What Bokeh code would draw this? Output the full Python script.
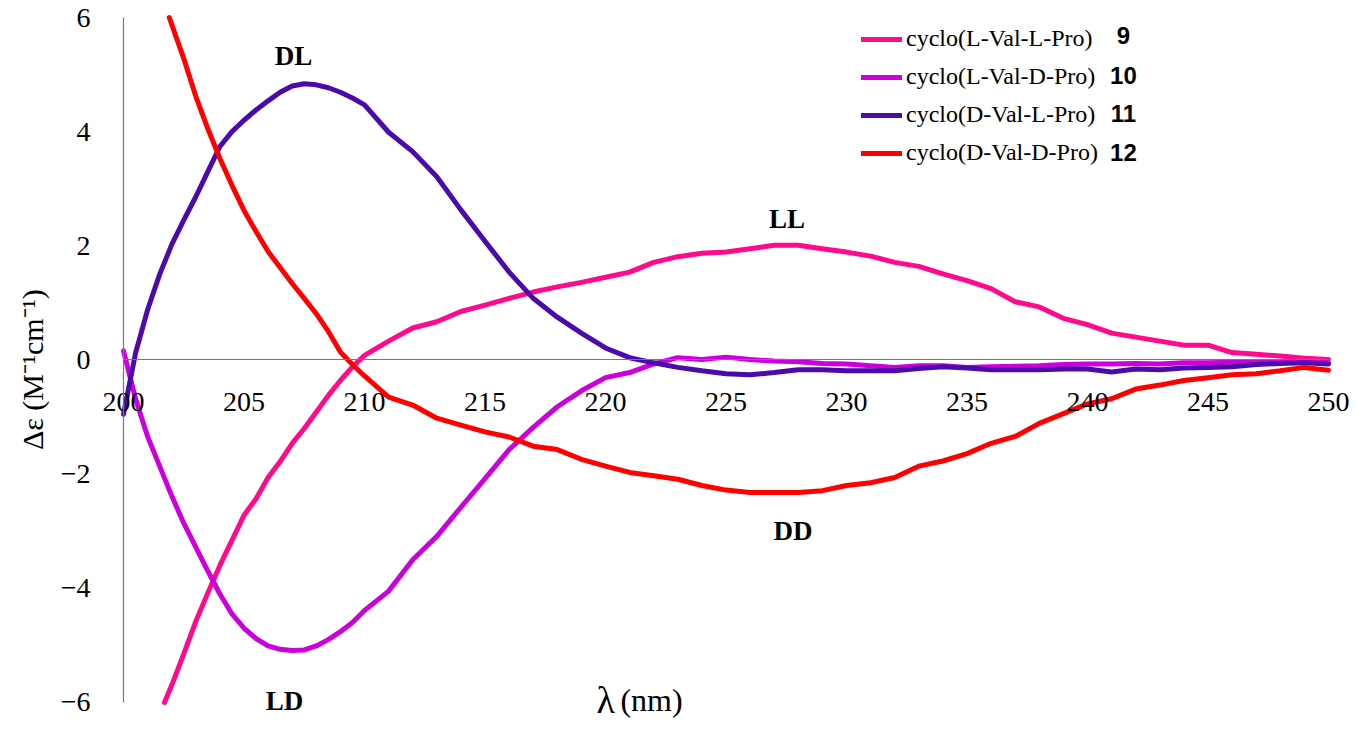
import numpy as np
from bokeh.plotting import figure
from bokeh.models import Label, Legend, LegendItem, FixedTicker, Range1d
from bokeh.embed import file_html
from bokeh.resources import INLINE

# ---- data ----
fine = [200 + 0.5 * i for i in range(21)]          # 200 ... 210 in 0.5 nm steps
coarse = list(range(211, 251))                      # 211 ... 250

# cyclo(L-Val-L-Pro) 9: enters the window at the bottom edge near 201.7 nm
ll_wavelength = [201.7, 202, 202.5, 203, 203.5, 204, 204.5, 205, 205.5, 206, 206.5,
                 207, 207.5, 208, 208.5, 209, 209.5, 210] + coarse
ll_9 = [-6.0, -5.7, -5.15, -4.58, -4.08, -3.6, -3.16, -2.72, -2.43, -2.06, -1.78,
        -1.46, -1.2, -0.91, -0.62, -0.36, -0.12, 0.08,
        0.33, 0.56, 0.67, 0.85, 0.96, 1.08, 1.19, 1.28, 1.36,
        1.45, 1.54, 1.71, 1.81, 1.87, 1.89, 1.95, 2.01, 2.01, 1.95,
        1.89, 1.82, 1.71, 1.64, 1.51, 1.39, 1.25, 1.02, 0.93, 0.73,
        0.62, 0.47, 0.40, 0.33, 0.26, 0.26, 0.13, 0.10, 0.07, 0.03, 0.01]

# cyclo(L-Val-D-Pro) 10
ld_wavelength = fine + coarse
ld_10 = [0.16, -0.68, -1.34, -1.86, -2.38, -2.86, -3.28, -3.7, -4.1, -4.45,
         -4.70, -4.88, -5.01, -5.07, -5.09, -5.08, -5.01, -4.90, -4.76, -4.60, -4.39,
         -4.05, -3.5, -3.09, -2.58, -2.08, -1.57, -1.18, -0.82, -0.54,
         -0.31, -0.22, -0.07, 0.04, 0.01, 0.05, 0.01, -0.02, -0.03, -0.06,
         -0.07, -0.10, -0.13, -0.10, -0.10, -0.13, -0.12, -0.11, -0.10, -0.08,
         -0.07, -0.07, -0.06, -0.07, -0.05, -0.05, -0.04, -0.04, -0.03, -0.03, -0.05]

# cyclo(D-Val-L-Pro) 11
dl_wavelength = fine + coarse
dl_11 = [-0.95, 0.12, 0.88, 1.50, 2.02, 2.45, 2.86, 3.3, 3.74, 4.0,
         4.2, 4.38, 4.54, 4.69, 4.80, 4.84, 4.82, 4.77, 4.69, 4.59, 4.47,
         3.99, 3.65, 3.21, 2.63, 2.08, 1.54, 1.08, 0.75, 0.47,
         0.21, 0.04, -0.05, -0.13, -0.19, -0.24, -0.26, -0.22, -0.17, -0.17,
         -0.19, -0.19, -0.19, -0.15, -0.12, -0.14, -0.17, -0.17, -0.17, -0.16,
         -0.16, -0.21, -0.16, -0.17, -0.14, -0.13, -0.12, -0.08, -0.06, -0.05, -0.07]

# cyclo(D-Val-D-Pro) 12: enters the window at the top edge near 201.9 nm
dd_wavelength = [201.9, 202.5, 203, 203.5, 204, 204.5, 205, 205.5, 206, 206.5,
                 207, 207.5, 208, 208.5, 209, 209.5, 210] + coarse
dd_12 = [6.0, 5.28, 4.62, 4.05, 3.53, 3.06, 2.62, 2.25, 1.9, 1.62,
         1.34, 1.08, 0.81, 0.5, 0.14, -0.08, -0.28,
         -0.65, -0.79, -1.02, -1.14, -1.26, -1.35, -1.51, -1.57, -1.74,
         -1.86, -1.97, -2.03, -2.09, -2.2, -2.28, -2.32, -2.32, -2.32, -2.29,
         -2.2, -2.15, -2.06, -1.86, -1.77, -1.64, -1.46, -1.34, -1.11, -0.94,
         -0.77, -0.68, -0.51, -0.44, -0.36, -0.31, -0.26, -0.24, -0.19, -0.13, -0.18]

series_names = ["cyclo(L-Val-L-Pro)", "cyclo(L-Val-D-Pro)",
                "cyclo(D-Val-L-Pro)", "cyclo(D-Val-D-Pro)"]
series_numbers = ["9", "10", "11", "12"]
series_x = [ll_wavelength, ld_wavelength, dl_wavelength, dd_wavelength]
series_values = [ll_9, ld_10, dl_11, dd_12]
series_colors = ["#FF0A8C", "#CC00DD", "#4B0AAA", "#FF0000"]

curve_labels = ["DL", "LL", "DD", "LD"]

x_ticks = list(range(200, 251, 5))
y_ticks = [-6, -4, -2, 0, 2, 4, 6]
y_tick_labels = {-6: "\u22126", -4: "\u22124", -2: "\u22122", 0: "0", 2: "2", 4: "4", 6: "6"}

SERIF = "Liberation Serif"

p = figure(width=1350, height=721,
           x_range=Range1d(194.896, 250.913), y_range=Range1d(-6.334, 6.298),
           output_backend="svg", toolbar_location=None,
           min_border_left=0, min_border_right=0,
           min_border_top=0, min_border_bottom=0)
p.outline_line_color = None
p.xgrid.visible = False
p.ygrid.visible = False
p.background_fill_color = "white"
p.border_fill_color = "white"

renderers = []
for xs, vals, col in zip(series_x, series_values, series_colors):
    r = p.line(xs, vals, line_color=col, line_width=5, line_join="round", line_cap="round")
    renderers.append(r)

# x axis through zero
xa = p.xaxis[0]
xa.fixed_location = 0
xa.bounds = (200, 250)
xa.ticker = FixedTicker(ticks=x_ticks)
xa.axis_line_color = "#777777"
xa.axis_line_width = 1.2
xa.major_tick_line_color = None
xa.minor_tick_line_color = None
xa.major_tick_out = 0
xa.major_tick_in = 0
xa.major_label_standoff = 33
xa.major_label_text_font = SERIF
xa.major_label_text_font_size = "28px"
xa.major_label_text_color = "black"

# y axis at 200 nm
ya = p.yaxis[0]
ya.fixed_location = 200
ya.bounds = (-6, 6)
ya.ticker = FixedTicker(ticks=y_ticks)
ya.major_label_overrides = y_tick_labels
ya.axis_line_color = "#777777"
ya.axis_line_width = 1.2
ya.major_tick_line_color = None
ya.minor_tick_line_color = None
ya.major_tick_out = 0
ya.major_tick_in = 0
ya.major_label_standoff = 33
ya.major_label_text_font = SERIF
ya.major_label_text_font_size = "28px"
ya.major_label_text_color = "black"

# legend
items = [LegendItem(label=n, renderers=[r]) for n, r in zip(series_names, renderers)]
legend = Legend(items=items, location=(861, 555), orientation="vertical",
                glyph_width=41, glyph_height=20, label_height=20, label_standoff=4,
                spacing=11, padding=0, margin=0, border_line_color=None,
                background_fill_alpha=0, label_text_font=SERIF,
                label_text_font_size="24px", label_text_color="black")
p.add_layout(legend)

for num, yy in zip(series_numbers, [5.69, 4.99, 4.32, 3.63]):
    p.add_layout(Label(x=241.49, y=yy, text=num, text_align="center", text_baseline="middle",
                       text_font="Liberation Sans", text_font_style="bold",
                       text_font_size="24px", text_color="black"))

# curve annotations
for txt, xx, yy in zip(curve_labels, [207.05, 227.53, 227.78, 206.68], [5.32, 2.47, -3.0, -5.97]):
    p.add_layout(Label(x=xx, y=yy, text=txt, text_align="center", text_baseline="middle",
                       text_font=SERIF, text_font_style="bold", text_font_size="27px",
                       text_color="black"))

# axis titles
p.add_layout(Label(x=196.224, y=-0.17, text="\u0394\u03b5 (M\u207b\u00b9cm\u207b\u00b9)", angle=np.pi / 2,
                   text_align="center", text_baseline="middle", text_font=SERIF,
                   text_font_size="30px", text_color="black"))
p.add_layout(Label(x=219.63, y=-5.95, text="\u03bb", text_align="left", text_baseline="alphabetic",
                   text_font=SERIF, text_font_size="38px", text_color="black"))
p.add_layout(Label(x=220.62, y=-5.95, text="(nm)", text_align="left", text_baseline="alphabetic",
                   text_font=SERIF, text_font_size="32px", text_color="black"))

open("out.html", "w").write(file_html(p, INLINE))
